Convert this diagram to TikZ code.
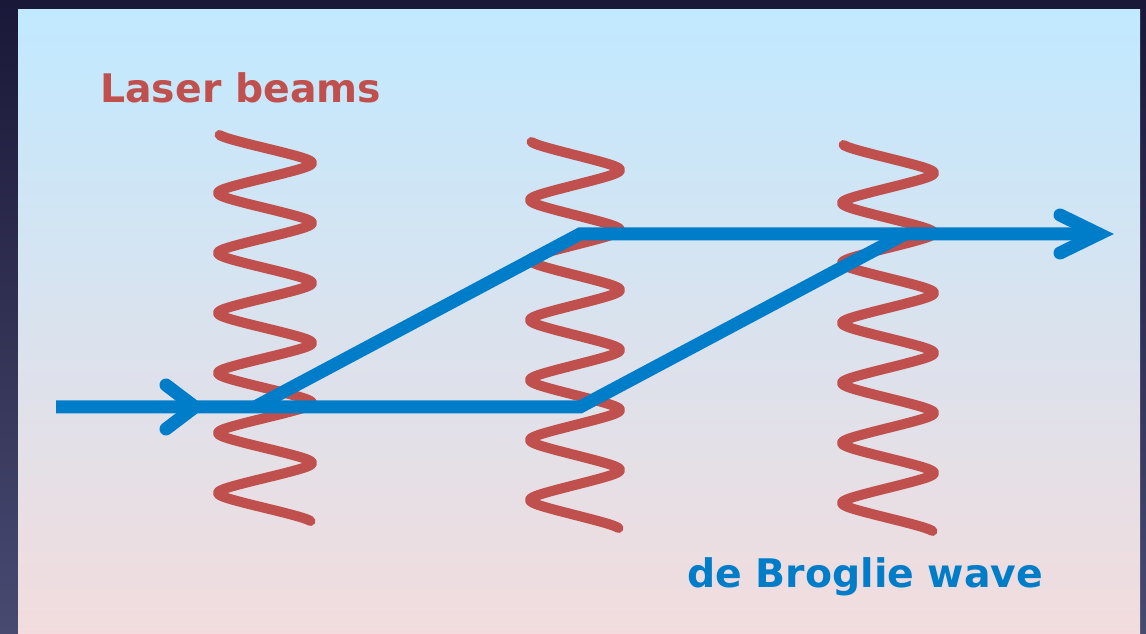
\documentclass[tikz,border=0pt]{standalone}
\usepackage{fontspec}
\setmainfont{DejaVu Sans}
\usetikzlibrary{calc}
\definecolor{beamred}{RGB}{192,80,77}
\definecolor{wavblue}{RGB}{0,125,200}
\definecolor{skyblue}{RGB}{193,233,255}
\definecolor{rosepink}{RGB}{242,220,221}
\definecolor{slatetop}{RGB}{26,24,56}
\definecolor{slatebot}{RGB}{72,74,112}
\tikzset{
  laser/.style={draw=beamred, line width=10*0.02cm, line cap=round, line join=round},
  path/.style={draw=wavblue, line width=13*0.02cm, line join=miter},
  chevron/.style={draw=wavblue, line width=13*0.02cm, line cap=round, line join=miter, miter limit=10},
  caption/.style={font=\bfseries\fontsize{22.4}{26}\selectfont, inner sep=0pt, anchor=base west}
}
% standing wave with slightly sharpened turns
\newcommand{\zigzag}[4]{% centre x, start y, amplitude, name
  \draw[laser] plot[domain=2:388, samples=400, smooth]
    ({#1-#3*asin(0.86*cos(6*\x))/asin(0.86)}, {#2+\x});
}
\begin{document}
\begin{tikzpicture}[x=0.02cm, y=-0.02cm]
  % frame and panel
  \shade[top color=slatetop, bottom color=slatebot] (0,0) rectangle (1146,634);
  \shade[top color=skyblue, bottom color=rosepink] (18,10) rectangle (1140,634);
  \useasboundingbox (0,0) rectangle (1146,634);

  % standing laser waves
  \zigzag{265}{133}{47}{b1}
  \zigzag{575}{140}{45}{b2}
  \zigzag{888}{143}{46}{b3}

  % matter-wave paths
  \coordinate (in)    at (56,407);
  \coordinate (split) at (255,407);
  \coordinate (lo)    at (580,407);
  \coordinate (up)    at (580,234);
  \coordinate (merge) at (905,234);
  \coordinate (tipA)  at (195,407);
  \coordinate (tipB)  at (1099,234);

  \draw[path] (in) -- (lo) -- (merge);
  \draw[path] (split) -- (up) -- (tipB);
  \draw[chevron] ($(tipA)+(-29,-22)$) -- (tipA) -- ($(tipA)+(-29,22)$);
  \draw[chevron] ($(tipB)+(-39,-19)$) -- (tipB) -- ($(tipB)+(-39,19)$);

  % labels
  \node[caption, text=beamred] (lasers) at (100,103) {Laser beams};
  \node[caption, text=wavblue] (dbw) at (687,587) {de Broglie wave};
\end{tikzpicture}
\end{document}
